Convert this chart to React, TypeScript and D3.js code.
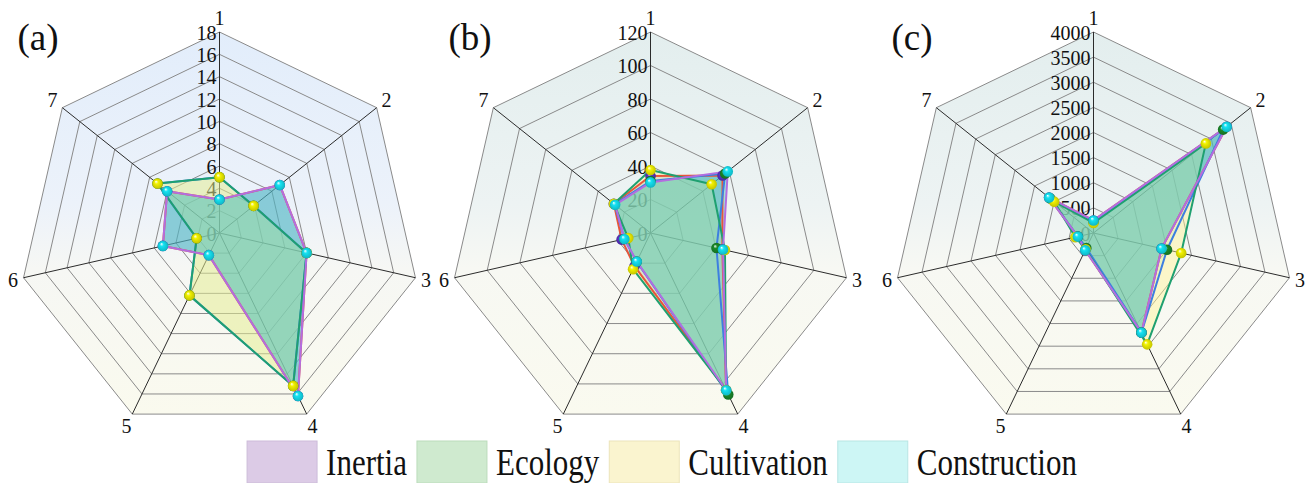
import React, { useMemo } from 'react';
import * as d3 from 'd3';

// Radar axes (indicator numbers) and series names
const axes = ['1', '2', '3', '4', '5', '6', '7'];
const seriesNames = ['Inertia', 'Ecology', 'Cultivation', 'Construction'];
const panelLabels = ['(a)', '(b)', '(c)'];

// Radial tick labels for each panel
const ticksA = [0, 2, 4, 6, 8, 10, 12, 14, 16, 18];
const ticksB = [0, 20, 40, 60, 80, 100, 120];
const ticksC = [0, 500, 1000, 1500, 2000, 2500, 3000, 3500, 4000];

// Panel (a) values per axis 1..7
const inertiaA = [3.0, 6.9, 8.0, 16.2, 2.2, 5.2, 6.0];
const ecologyA = [5.0, 3.9, 8.0, 15.2, 6.2, 2.1, 7.1];
const cultivationA = [5.0, 3.9, 8.0, 15.2, 6.2, 2.1, 7.1];
const constructionA = [3.0, 6.9, 8.0, 16.2, 2.2, 5.2, 6.0];

// Panel (b)
const inertiaB = [34, 55, 44, 104, 22, 17.7, 28];
const ecologyB = [31, 57, 40.4, 107, 19, 16, 27.5];
const cultivationB = [37.6, 46.7, 45.6, 104, 24, 13.6, 28];
const constructionB = [30.2, 59, 44.4, 104.2, 18.9, 16, 27];

// Panel (c)
const inertiaC = [250, 3390, 1390, 2200, 380, 320, 1130];
const ecologyC = [230, 3300, 1500, 2200, 330, 320, 1100];
const cultivationC = [200, 2860, 1790, 2460, 360, 370, 1000];
const constructionC = [250, 3390, 1390, 2200, 380, 320, 1130];

const panels = [
  { label: panelLabels[0], ticks: ticksA, series: [inertiaA, ecologyA, cultivationA, constructionA] },
  { label: panelLabels[1], ticks: ticksB, series: [inertiaB, ecologyB, cultivationB, constructionB] },
  { label: panelLabels[2], ticks: ticksC, series: [inertiaC, ecologyC, cultivationC, constructionC] },
];

// Styling
const areaFill = ['#6e8cdc', '#50c878', '#fff596', '#45c7bb'];
const areaOpacity = [0.35, 0.15, 0.45, 0.45];
const lineColor = ['#e8553a', '#3d7fe0', '#1fa070', '#b36ee0'];
const ballColor = ['#5a34c8', '#1a8a2a', '#f2f200', '#14e2f2'];
const swatchColor = ['#dccbe6', '#cfeacf', '#faf4cf', '#cdf6f5'];
const swatchStroke = ['#cdbcd9', '#bcdcbc', '#ece4bb', '#b8e6e4'];
const bgStops = [
  ['#e2edfb', '#ecf2fa', '#f6f7f4', '#fafaee'],
  ['#e3eeee', '#edf3f3', '#f7f8f3', '#fafaef'],
  ['#e3eeee', '#edf3f3', '#f7f8f3', '#fafaef'],
];

const W = 1313;
const H = 483;
const R = 201;
const CY = 233;
const panelCX = [219.5, 650.5, 1093.5];
const FONT =
  "'Liberation Serif', 'DejaVu Serif', 'Noto Serif', 'Times New Roman', Times, 'Nimbus Roman', 'FreeSerif', serif";
const textStyle = { fontFamily: FONT };

function RadarPanel({ idx, cx }: { idx: number; cx: number }) {
  const { label, ticks, series } = panels[idx];
  const maxV = d3.max(ticks) as number;
  const r = d3.scaleLinear().domain([0, maxV]).range([0, R]);
  const ang = d3.scaleLinear().domain([0, axes.length]).range([0, 2 * Math.PI]);
  const pt = (i: number, v: number): [number, number] => [
    r(v) * Math.sin(ang(i)),
    -r(v) * Math.cos(ang(i)),
  ];
  const ring = (v: number) => axes.map((_, i) => pt(i, v).join(',')).join(' ');
  const radial = d3
    .lineRadial<number>()
    .angle((_, i) => ang(i))
    .radius((d) => r(d))
    .curve(d3.curveLinearClosed);

  return (
    <g transform={`translate(${cx},${CY})`}>
      <polygon points={ring(maxV)} fill={`url(#bg-${idx})`} />
      {ticks.slice(1).map((t) => (
        <polygon key={t} points={ring(t)} fill="none" stroke="#8a8a8a" strokeWidth={1} />
      ))}
      {axes.map((a, i) => {
        const [x, y] = pt(i, maxV);
        return <line key={a} x1={0} y1={0} x2={x} y2={y} stroke="#2b2b2b" strokeWidth={1} />;
      })}
      {ticks.map((t) => (
        <text
          key={t}
          x={-3}
          y={-r(t)}
          dy="0.38em"
          textAnchor="end"
          fontSize={20}
          style={textStyle}
          fill="#111"
        >
          {t}
        </text>
      ))}
      {series.map((vals, s) => (
        <path key={`f${s}`} d={radial(vals) || ''} fill={areaFill[s]} fillOpacity={areaOpacity[s]} stroke="none" />
      ))}
      {series.map((vals, s) => (
        <path
          key={`l${s}`}
          d={radial(vals) || ''}
          fill="none"
          stroke={lineColor[s]}
          strokeWidth={2}
          strokeLinejoin="round"
        />
      ))}
      {series.map((vals, s) => (
        <g key={`m${s}`}>
          {vals.map((v, i) => {
            const [x, y] = pt(i, v);
            return <circle key={i} cx={x} cy={y} r={5.3} fill={`url(#ball-${s})`} />;
          })}
        </g>
      ))}
      {axes.map((a, i) => {
        const dx = Math.sin(ang(i));
        const dy = -Math.cos(ang(i));
        const off = R + 10 + 4 * Math.abs(dy);
        return (
          <text
            key={a}
            x={dx * off}
            y={dy * off}
            dy="0.35em"
            textAnchor="middle"
            fontSize={20}
            style={textStyle}
            fill="#111"
          >
            {a}
          </text>
        );
      })}
      <text x={-202} y={-183} fontSize={37} style={textStyle} fill="#111">
        {label}
      </text>
    </g>
  );
}

export default function App() {
  const legend = useMemo(() => {
    const canvas = document.createElement('canvas');
    const ctx = canvas.getContext('2d');
    const fs = 31;
    if (ctx) ctx.font = `${fs}px ${FONT}`;
    const widths = seriesNames.map((n) => (ctx ? ctx.measureText(n).width : n.length * 15));
    const sw = 70;
    const gapIn = 9;
    const gapOut = 10;
    const total = d3.sum(widths) + seriesNames.length * (sw + gapIn) + (seriesNames.length - 1) * gapOut;
    let x = 662 - total / 2;
    return seriesNames.map((n, i) => {
      const item = { name: n, x, tx: x + sw + gapIn, sw };
      x += sw + gapIn + widths[i] + gapOut;
      return item;
    });
  }, []);

  return (
    <svg
      width={W}
      height={H}
      viewBox={`0 0 ${W} ${H}`}
      style={{ position: 'absolute', left: 0, top: 0, background: '#fff' }}
    >
      <defs>
        {bgStops.map((stops, p) => (
          <linearGradient key={p} id={`bg-${p}`} x1="0" y1="0" x2="0" y2="1">
            <stop offset="0" stopColor={stops[0]} />
            <stop offset="0.45" stopColor={stops[1]} />
            <stop offset="0.62" stopColor={stops[2]} />
            <stop offset="1" stopColor={stops[3]} />
          </linearGradient>
        ))}
        {ballColor.map((c, s) => (
          <radialGradient key={s} id={`ball-${s}`} cx="0.5" cy="0.5" r="0.5" fx="0.35" fy="0.3">
            <stop offset="0" stopColor="#ffffff" />
            <stop offset="0.35" stopColor={c} />
            <stop offset="1" stopColor={d3.color(c)?.darker(0.6).formatHex() || c} />
          </radialGradient>
        ))}
      </defs>
      <rect width={W} height={H} fill="#fff" />
      {panelCX.map((cx, i) => (
        <RadarPanel key={i} idx={i} cx={cx} />
      ))}
      <g>
        {legend.map((it, i) => (
          <g key={it.name}>
            <rect
              x={it.x}
              y={441}
              width={it.sw}
              height={42}
              fill={swatchColor[i]}
              stroke={swatchStroke[i]}
              strokeWidth={1}
            />
            <text
              transform={`translate(${it.tx},474.5) scale(1,1.2)`}
              fontSize={31}
              style={textStyle}
              fill="#111"
            >
              {it.name}
            </text>
          </g>
        ))}
      </g>
    </svg>
  );
}
